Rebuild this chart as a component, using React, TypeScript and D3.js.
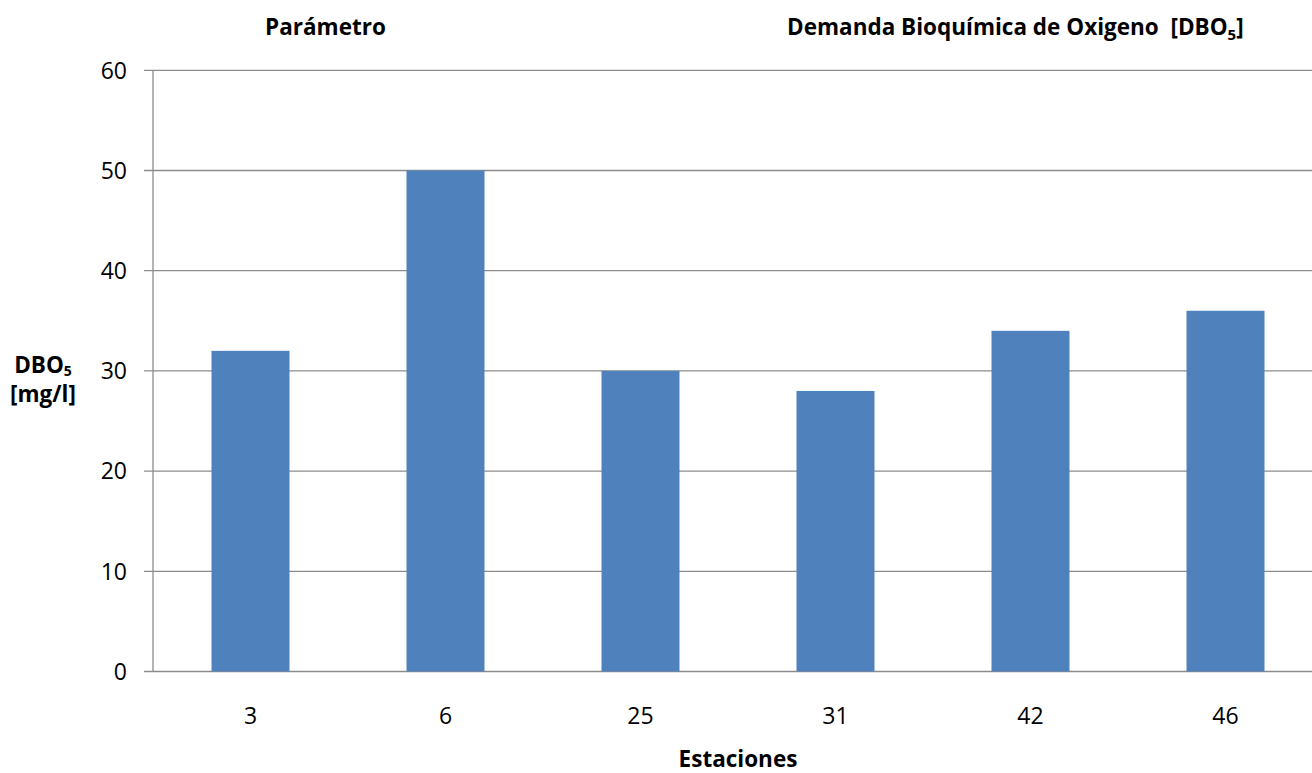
import React from "react";
import * as d3 from "d3";

const categories = ["3", "6", "25", "31", "42", "46"];
const values = [32, 50, 30, 28, 34, 36];
const yTicks = [0, 10, 20, 30, 40, 50, 60];

const W = 1312;
const H = 773;
const left = 153;
const top = 70.3;
const bottom = 671.5;
const right = 1323;
const FONT = "'Open Sans', 'Noto Sans', sans-serif";

export default function App() {
  const x = d3.scaleBand<string>().domain(categories).range([left, right]).paddingInner(0.6).paddingOuter(0.3);
  const y = d3.scaleLinear().domain([0, 60]).range([bottom, top]);
  const grid = "#8c8c8c";
  const tickFs = 23;
  const boldFs = 22.5;
  return (
    <div style={{ position: "fixed", left: 0, top: 0 }}>
      <svg width={W} height={H} style={{ display: "block", background: "#fff" }} fontFamily={FONT}>
        {yTicks.map((t) => (
          <g key={t}>
            <line x1={144} x2={W} y1={y(t)} y2={y(t)} stroke={grid} strokeWidth={1.3} />
            <text x={127} y={y(t)} dy="0.36em" textAnchor="end" fontSize={tickFs} fill="#000">
              {t}
            </text>
          </g>
        ))}
        <line x1={left} x2={left} y1={top} y2={bottom} stroke={grid} strokeWidth={1.3} />
        {categories.map((c, i) => (
          <rect key={c} x={x(c)!} y={y(values[i])} width={x.bandwidth()} height={y(0) - y(values[i])} fill="#4F81BD" />
        ))}
        {categories.map((c) => (
          <text key={c} x={x(c)! + x.bandwidth() / 2} y={716} dy="0.36em" textAnchor="middle" fontSize={tickFs} fill="#000">
            {c}
          </text>
        ))}
        <text x={325.5} y={27} dy="0.36em" textAnchor="middle" fontSize={boldFs} fontWeight="bold">
          Parámetro
        </text>
        <text x={787} y={27} dy="0.36em" textAnchor="start" fontSize={boldFs} fontWeight="bold">
          Demanda Bioquímica de Oxigeno{"\u00a0\u00a0"}[DBO<tspan fontSize={15} dy="5">5</tspan><tspan dy="-5">]</tspan>
        </text>
        <text x={43} y={373} textAnchor="middle" fontSize={boldFs} fontWeight="bold">
          <tspan>DBO</tspan>
          <tspan fontSize={14} dy="3">5</tspan>
          <tspan x={43} dy="26">[mg/l]</tspan>
        </text>
        <text x={738} y={767} textAnchor="middle" fontSize={boldFs} fontWeight="bold">
          Estaciones
        </text>
      </svg>
    </div>
  );
}
